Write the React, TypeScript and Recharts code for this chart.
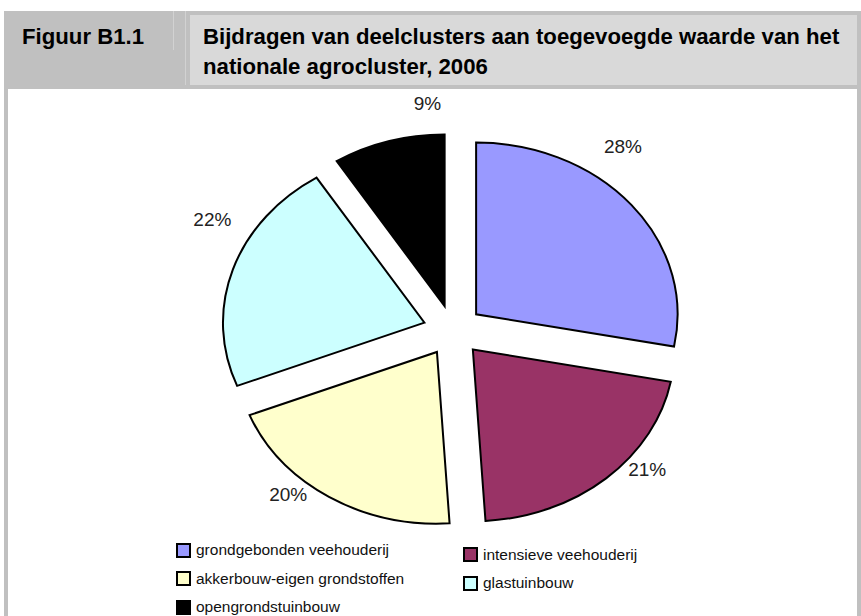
import { Pie, PieChart } from "recharts";

const CATEGORIES = [
  "grondgebonden veehouderij",
  "intensieve veehouderij",
  "akkerbouw-eigen grondstoffen",
  "glastuinbouw",
  "opengrondstuinbouw",
];
const SHARES = [28, 21, 20, 22, 9];
const LABELS = ["28%", "21%", "20%", "22%", "9%"];
const COLORS = ["#9999ff", "#993366", "#ffffcc", "#ccffff", "#000000"];

const data = CATEGORIES.map((name, i) => ({ name, value: SHARES[i] }));

const RAD = Math.PI / 180;
// the original pie is stretched into an ellipse, slices pulled out
const FLAT = 0.846;
const EXPLODE = 30;
const LABEL_TURN = [11, 8, -6.5, -10, -11.5];
const LABEL_R = [274, 261, 256, 268, 264];
const FONT = '"Liberation Sans", Arial, sans-serif';
const GRAY = "#c0c0c0";

function Slice(props: any) {
  const { cx, cy, outerRadius, startAngle, endAngle, midAngle, index } = props;
  const vx = cx + EXPLODE * Math.cos(-midAngle * RAD);
  const vy = cy + EXPLODE * FLAT * Math.sin(-midAngle * RAD);
  const rx = outerRadius - 1.5;
  const ry = outerRadius * FLAT;
  const pt = (a: number) => [vx + rx * Math.cos(-a * RAD), vy + ry * Math.sin(-a * RAD)];
  const [x1, y1] = pt(startAngle);
  const [x2, y2] = pt(endAngle);
  const large = Math.abs(startAngle - endAngle) > 180 ? 1 : 0;
  const sweep = startAngle > endAngle ? 1 : 0;
  const a = midAngle + LABEL_TURN[index];
  const lx = cx - 4 + LABEL_R[index] * Math.cos(-a * RAD);
  const ly = cy - 4.5 + LABEL_R[index] * FLAT * Math.sin(-a * RAD);
  return (
    <g>
      <path
        d={`M${vx},${vy} L${x1},${y1} A${rx},${ry} 0 ${large} ${sweep} ${x2},${y2} Z`}
        fill={COLORS[index]}
        stroke="#000"
        strokeWidth={2}
      />
      <text
        x={lx}
        y={ly}
        textAnchor="middle"
        dominantBaseline="central"
        fontFamily={FONT}
        fontSize={19}
        fill="#222"
      >
        {LABELS[index]}
      </text>
    </g>
  );
}

function Legend() {
  return (
    <>
      {CATEGORIES.map((name, i) => {
        const col = i % 2;
        const row = Math.floor(i / 2);
        return (
          <div
            key={name}
            style={{
              position: "absolute",
              left: 176 + col * 287,
              top: 539 + row * 28.5 + col * 4.5,
              height: 22,
              display: "flex",
              alignItems: "center",
              fontFamily: FONT,
              fontSize: 15.5,
              color: "#111",
              whiteSpace: "nowrap",
            }}
          >
            <span
              style={{
                display: "inline-block",
                width: 15,
                height: 15,
                boxSizing: "border-box",
                border: "2px solid #000",
                background: COLORS[i],
                marginRight: 5,
              }}
            />
            {name}
          </div>
        );
      })}
    </>
  );
}

export default function App() {
  return (
    <div style={{ position: "relative", width: 861, height: 616, overflow: "hidden", background: "#fff" }}>
      <style>{`body{margin:0}`}</style>
      <PieChart width={861} height={616} style={{ position: "absolute", left: 0, top: 0 }}>
        <Pie
          data={data}
          dataKey="value"
          nameKey="name"
          cx={448}
          cy={325.5}
          outerRadius={203}
          startAngle={90}
          endAngle={-270}
          fill="none"
          stroke="none"
          label={Slice}
          labelLine={false}
          isAnimationActive={false}
        />
      </PieChart>

      {/* frame and header */}
      <div style={{ position: "absolute", left: 4, top: 11, width: 857, height: 78, background: GRAY }} />
      <div style={{ position: "absolute", left: 173, top: 11, width: 1, height: 39, background: "#d2d2d2" }} />
      <div style={{ position: "absolute", left: 185, top: 11, width: 1, height: 74, background: "#d2d2d2" }} />
      <div style={{ position: "absolute", left: 190, top: 15, width: 667, height: 70, background: "#d9d9d9" }} />
      <div style={{ position: "absolute", left: 4, top: 89, width: 4, height: 527, background: GRAY }} />
      <div style={{ position: "absolute", left: 857, top: 89, width: 4, height: 527, background: GRAY }} />
      <div
        style={{
          position: "absolute",
          left: 22,
          top: 22,
          fontFamily: FONT,
          fontWeight: "bold",
          fontSize: 22.2,
          lineHeight: "30px",
          color: "#000",
        }}
      >
        Figuur B1.1
      </div>
      <div
        style={{
          position: "absolute",
          left: 203,
          top: 22,
          width: 652,
          fontFamily: FONT,
          fontWeight: "bold",
          fontSize: 22.2,
          lineHeight: "30px",
          color: "#000",
        }}
      >
        Bijdragen van deelclusters aan toegevoegde waarde van het nationale agrocluster, 2006
      </div>

      <Legend />
    </div>
  );
}
